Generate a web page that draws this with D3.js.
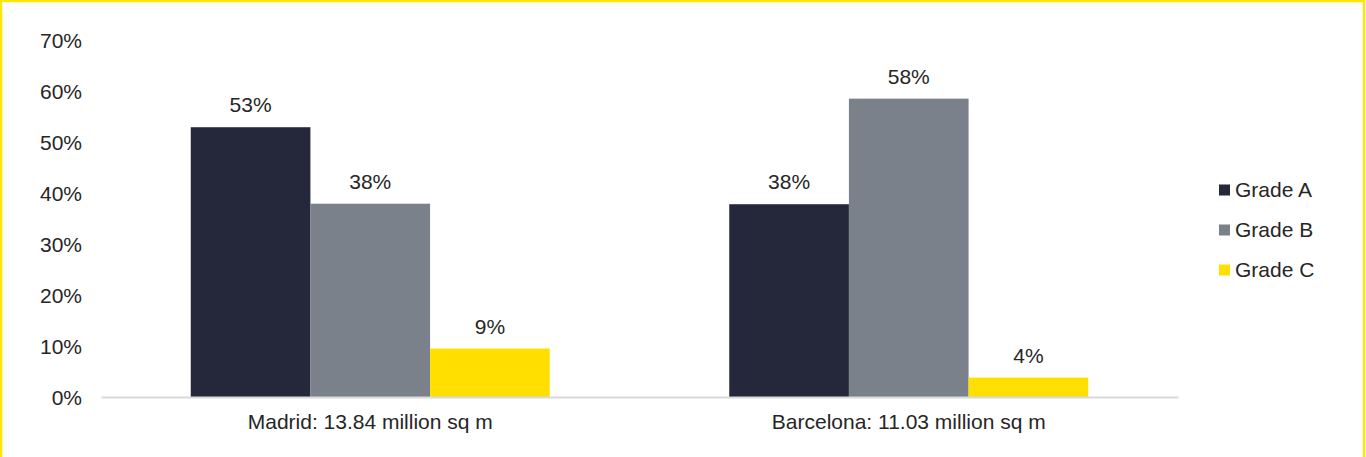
<!DOCTYPE html>
<html>
<head>
<meta charset="utf-8">
<script src="https://cdn.jsdelivr.net/npm/d3@7/dist/d3.min.js"></script>
<style>
html,body{margin:0;padding:0;background:#fff;}
svg{display:block;font-family:"Liberation Sans",Arial,sans-serif;}
</style>
</head>
<body>
<svg id="chart" width="1366" height="457"></svg>
<script>
const categories = ["Madrid: 13.84 million sq m", "Barcelona: 11.03 million sq m"];
const seriesNames = ["Grade A", "Grade B", "Grade C"];
const gradeA = [0.529, 0.378];
const gradeB = [0.379, 0.585];
const gradeC = [0.095, 0.038];
const valueLabels = [["53%", "38%", "9%"], ["38%", "58%", "4%"]];
const yTicks = [0, 0.1, 0.2, 0.3, 0.4, 0.5, 0.6, 0.7];
const colors = ["#25283a", "#7b818b", "#ffdf00"];

const svg = d3.select("#chart");
const W = 1366, H = 457;
const FS = 21;

// frame
svg.append("rect").attr("x", 1).attr("y", 1).attr("width", W - 3).attr("height", H + 20)
  .attr("fill", "none").attr("stroke", "#ffe600").attr("stroke-width", 2.5);

const plotLeft = 101, plotRight = 1178, plotTop = 40, plotBottom = 397;
const y = d3.scaleLinear().domain([0, 0.7]).range([plotBottom, plotTop]);
const x0 = d3.scaleBand().domain(categories).range([plotLeft, plotRight]).padding(0);
const step = x0.bandwidth();
const x1 = d3.scaleBand().domain(seriesNames).range([step / 6, step * 5 / 6]).padding(0);

const data = categories.map((c, i) => ({
  cat: c,
  vals: [gradeA[i], gradeB[i], gradeC[i]].map((v, j) => ({ s: seriesNames[j], v, lab: valueLabels[i][j], col: colors[j] }))
}));

// y axis labels
const yAxis = d3.axisLeft(y).tickValues(yTicks).tickFormat(d3.format(".0%")).tickSize(0).tickPadding(0);
const gy = svg.append("g").attr("transform", `translate(${82},0)`).call(yAxis);
gy.select(".domain").remove();
gy.selectAll("text").attr("font-size", FS).attr("fill", "#262626")
  .attr("font-family", "Liberation Sans, Arial, sans-serif").attr("dy", "0.35em");

// bars
const g = svg.append("g");
const groups = g.selectAll("g.cat").data(data).join("g")
  .attr("transform", d => `translate(${x0(d.cat)},0)`);
groups.selectAll("rect").data(d => d.vals).join("rect")
  .attr("x", d => x1(d.s)).attr("width", x1.bandwidth())
  .attr("y", d => y(d.v)).attr("height", d => y(0) - y(d.v))
  .attr("fill", d => d.col);
groups.selectAll("text").data(d => d.vals).join("text")
  .attr("x", d => x1(d.s) + x1.bandwidth() / 2)
  .attr("y", d => y(d.v) - 15)
  .attr("text-anchor", "middle").attr("font-size", FS).attr("fill", "#262626")
  .text(d => d.lab);

// x axis
const xAxis = d3.axisBottom(x0).tickSize(0).tickPadding(0);
const gx = svg.append("g").attr("transform", `translate(0,${plotBottom})`).call(xAxis);
gx.select(".domain").attr("stroke", "#d9d9d9").attr("stroke-width", 2);
gx.selectAll("text").attr("font-size", FS).attr("fill", "#262626")
  .attr("font-family", "Liberation Sans, Arial, sans-serif").attr("y", 32).attr("dy", 0);

// legend
const leg = svg.append("g");
seriesNames.forEach((s, i) => {
  const cy = 190 + i * 40;
  leg.append("rect").attr("x", 1219).attr("y", cy - 5.5).attr("width", 11).attr("height", 11).attr("fill", colors[i]);
  leg.append("text").attr("x", 1235).attr("y", cy).attr("dy", "0.35em")
    .attr("font-size", FS).attr("fill", "#262626").text(s);
});
</script>
</body>
</html>
